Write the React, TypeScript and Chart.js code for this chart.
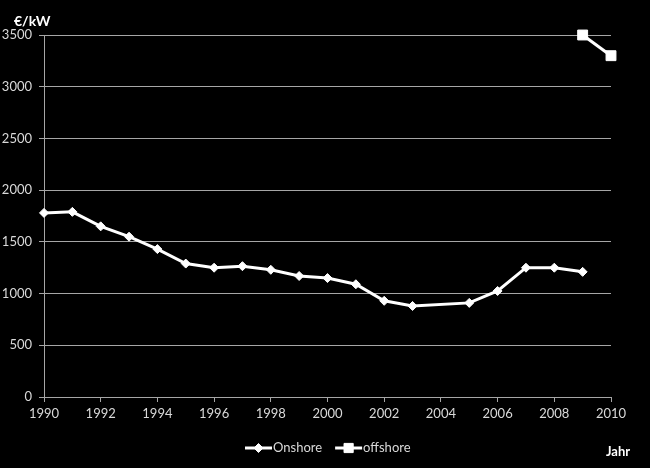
import React, { useEffect, useRef } from 'react';
import { Chart, registerables } from 'chart.js';

Chart.register(...registerables);

const onshoreYears = [1990, 1991, 1992, 1993, 1994, 1995, 1996, 1997, 1998, 1999, 2000, 2001, 2002, 2003, 2005, 2006, 2007, 2008, 2009];
const onshoreValues = [1780, 1790, 1650, 1550, 1430, 1290, 1250, 1265, 1230, 1170, 1150, 1090, 930, 880, 910, 1025, 1250, 1250, 1210];
const offshoreYears = [2009, 2010];
const offshoreValues = [3500, 3300];
const seriesNames = ['Onshore', 'offshore'];
const yUnit = '€/kW';
const xTitle = 'Jahr';

const FONT = 'Lato, "Open Sans", sans-serif';
const TEXT = '#d9d9d9';
const GRID = '#a6a6a6';

function drawMarker(ctx: CanvasRenderingContext2D, style: string, x: number, y: number, r: number) {
  ctx.beginPath();
  if (style === 'rectRot') {
    ctx.moveTo(x - r, y);
    ctx.lineTo(x, y - r);
    ctx.lineTo(x + r, y);
    ctx.lineTo(x, y + r);
  } else {
    const s = Math.SQRT1_2 * r;
    ctx.rect(x - s, y - s, 2 * s, 2 * s);
  }
  ctx.closePath();
  ctx.fill();
  ctx.stroke();
}

const extrasPlugin = {
  id: 'extras',
  afterDraw(chart: any) {
    const ctx: CanvasRenderingContext2D = chart.ctx;
    ctx.save();
    ctx.fillStyle = '#ffffff';
    ctx.font = `bold 14px ${FONT}`;
    ctx.textAlign = 'left';
    ctx.textBaseline = 'middle';
    ctx.fillText(yUnit, 14, 21);
    ctx.font = `bold 13px ${FONT}`;
    ctx.fillText(xTitle, 606, 452);
    ctx.font = `13px ${FONT}`;
    let x = 245;
    const y = 448;
    chart.data.datasets.forEach((ds: any) => {
      ctx.strokeStyle = '#ffffff';
      ctx.lineWidth = 3;
      ctx.beginPath();
      ctx.moveTo(x, y);
      ctx.lineTo(x + 27, y);
      ctx.stroke();
      ctx.fillStyle = '#ffffff';
      ctx.lineWidth = 1;
      drawMarker(ctx, ds.pointStyle, x + 13.5, y, ds.pointStyle === 'rect' ? 6.5 : 4.5);
      ctx.fillStyle = TEXT;
      ctx.fillText(ds.label, x + 28, y);
      x += 28 + ctx.measureText(ds.label).width + 13;
    });
    ctx.restore();
  },
};

export default function App() {
  const ref = useRef<HTMLCanvasElement>(null);
  useEffect(() => {
    document.body.style.margin = '0';
    document.body.style.background = '#000';
    const chart = new Chart(ref.current!, {
      type: 'line',
      data: {
        datasets: [
          {
            label: seriesNames[0],
            data: onshoreYears.map((yr, i) => ({ x: yr, y: onshoreValues[i] })),
            borderColor: '#ffffff',
            backgroundColor: '#ffffff',
            borderWidth: 3,
            pointStyle: 'rectRot',
            pointRadius: 4.5,
            pointBorderWidth: 1,
            pointBackgroundColor: '#ffffff',
            pointBorderColor: '#ffffff',
            tension: 0,
            clip: false as any,
          },
          {
            label: seriesNames[1],
            data: offshoreYears.map((yr, i) => ({ x: yr, y: offshoreValues[i] })),
            borderColor: '#ffffff',
            backgroundColor: '#ffffff',
            borderWidth: 3,
            pointStyle: 'rect',
            pointRadius: 7,
            pointBorderWidth: 1,
            pointBackgroundColor: '#ffffff',
            pointBorderColor: '#ffffff',
            tension: 0,
            clip: false as any,
          },
        ],
      },
      options: {
        responsive: false,
        animation: false,
        layout: { padding: { top: 35, right: 39, left: 0, bottom: 0 } },
        plugins: { legend: { display: false }, tooltip: { enabled: false } },
        scales: {
          x: {
            type: 'linear',
            min: 1990,
            max: 2010,
            afterFit: (s: any) => { s.height = 71; },
            ticks: { stepSize: 2, color: TEXT, font: { family: FONT, size: 13 }, padding: 4, maxRotation: 0, callback: (v: any) => String(v) },
            grid: { drawOnChartArea: false, drawTicks: true, tickLength: 5, color: GRID },
            border: { display: true, color: GRID },
          },
          y: {
            min: 0,
            max: 3500,
            afterFit: (s: any) => { s.width = 44; },
            ticks: { stepSize: 500, color: TEXT, font: { family: FONT, size: 13 }, padding: 7, callback: (v: any) => String(v) },
            grid: { color: GRID, tickLength: 5 },
            border: { display: true, color: GRID },
          },
        },
      },
      plugins: [extrasPlugin],
    });
    return () => chart.destroy();
  }, []);
  return (
    <div style={{ position: 'absolute', left: 0, top: 0, width: 650, height: 468, background: '#000' }}>
      <canvas ref={ref} width={650} height={468} />
    </div>
  );
}
